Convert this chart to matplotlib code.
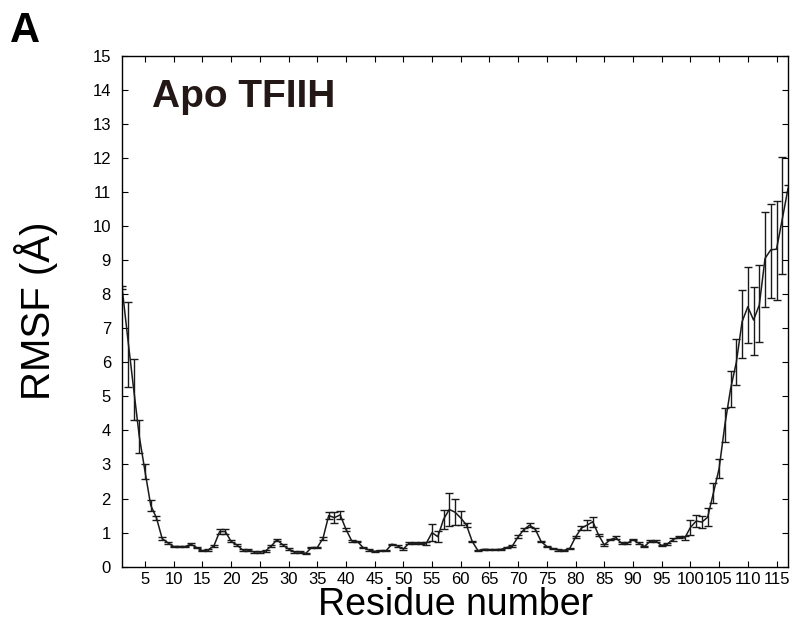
import numpy as np
import matplotlib
matplotlib.use("Agg")
import matplotlib.pyplot as plt

plt.rcParams['font.family'] = ['Liberation Sans', 'DejaVu Sans']

# RMSF per residue (line values)
rmsf = [8.2, 6.7, 5.25, 3.83, 2.8, 1.8, 1.43, 0.82, 0.7, 0.59,
        0.59, 0.59, 0.66, 0.56, 0.47, 0.49, 0.61, 1.03, 1.03, 0.74,
        0.64, 0.49, 0.49, 0.43, 0.43, 0.46, 0.61, 0.79, 0.64, 0.52,
        0.43, 0.43, 0.39, 0.56, 0.56, 0.83, 1.50, 1.44, 1.52, 1.10,
        0.76, 0.74, 0.56, 0.49, 0.45, 0.47, 0.47, 0.66, 0.61, 0.52,
        0.69, 0.69, 0.69, 0.69, 1.0, 0.88, 1.39, 1.68, 1.60, 1.43,
        1.22, 0.74, 0.47, 0.51, 0.50, 0.50, 0.51, 0.56, 0.61, 0.88,
        1.09, 1.22, 1.09, 0.74, 0.59, 0.53, 0.49, 0.48, 0.54, 0.87,
        1.13, 1.22, 1.32, 0.93, 0.64, 0.79, 0.85, 0.69, 0.69, 0.79,
        0.69, 0.59, 0.75, 0.75, 0.62, 0.67, 0.80, 0.87, 0.84, 1.15,
        1.34, 1.31, 1.45, 2.16, 2.88, 4.16, 5.22, 6.0, 7.19, 7.63,
        7.24, 7.68, 9.05, 9.30, 9.32, 10.2, 11.1]

# error bar extents below / above the line value
err_lo = [0.05, 1.43, 0.95, 0.48, 0.22, 0.17, 0.07, 0.04, 0.03, 0.02,
          0.02, 0.02, 0.03, 0.02, 0.02, 0.02, 0.03, 0.08, 0.08, 0.03,
          0.02, 0.02, 0.02, 0.02, 0.02, 0.02, 0.02, 0.03, 0.02, 0.02,
          0.02, 0.02, 0.02, 0.02, 0.02, 0.05, 0.11, 0.16, 0.11, 0.05,
          0.03, 0.02, 0.02, 0.02, 0.02, 0.02, 0.02, 0.02, 0.02, 0.02,
          0.02, 0.02, 0.02, 0.04, 0.24, 0.17, 0.28, 0.49, 0.38, 0.21,
          0.05, 0.02, 0.02, 0.02, 0.02, 0.02, 0.02, 0.02, 0.02, 0.04,
          0.04, 0.05, 0.04, 0.02, 0.02, 0.02, 0.02, 0.02, 0.02, 0.04,
          0.06, 0.15, 0.15, 0.04, 0.02, 0.02, 0.04, 0.02, 0.02, 0.02,
          0.02, 0.02, 0.02, 0.02, 0.02, 0.02, 0.05, 0.04, 0.05, 0.22,
          0.17, 0.18, 0.26, 0.30, 0.28, 0.49, 0.52, 0.67, 1.07, 1.07,
          1.03, 1.09, 1.42, 1.41, 1.49, 1.62, 0.10]
err_hi = err_lo[:1] + [1.06, 0.84] + err_lo[3:107] + \
         [0.68, 0.93, 1.16, 0.96, 1.18, 1.37, 1.36, 1.42, 1.82, 0.10]

residue = np.arange(1, len(rmsf) + 1)

fig = plt.figure(figsize=(7.95, 6.27), dpi=100)
ax = fig.add_axes([0.1535, 0.0962, 0.8377, 0.815])

ax.errorbar(residue, rmsf, yerr=[err_lo, err_hi], color='#1a1a1a',
            lw=1.1, elinewidth=1.0, capsize=2.8, capthick=1.0)

ax.set_xlim(1, 117)
ax.set_ylim(0, 15)
ax.set_xticks(np.arange(5, 116, 5))
ax.set_yticks(np.arange(0, 16, 1))
ax.tick_params(direction='in', top=True, right=True, length=4.5,
               width=0.8, labelsize=12)
ax.tick_params(axis='y', pad=8)
ax.tick_params(axis='x', pad=4)
for s in ax.spines.values():
    s.set_linewidth(1.0)

ax.set_xlabel('Residue number', fontsize=27, labelpad=0)
ax.set_ylabel('RMSF (Å)', fontsize=29, labelpad=25)
ax.text(0.045, 0.90, 'Apo TFIIH', transform=ax.transAxes, fontsize=28,
        fontweight='bold', color='#231815', va='baseline')
fig.text(0.012, 0.933, 'A', fontsize=30, fontweight='bold', va='baseline')

fig.savefig('out.png', dpi=100)
